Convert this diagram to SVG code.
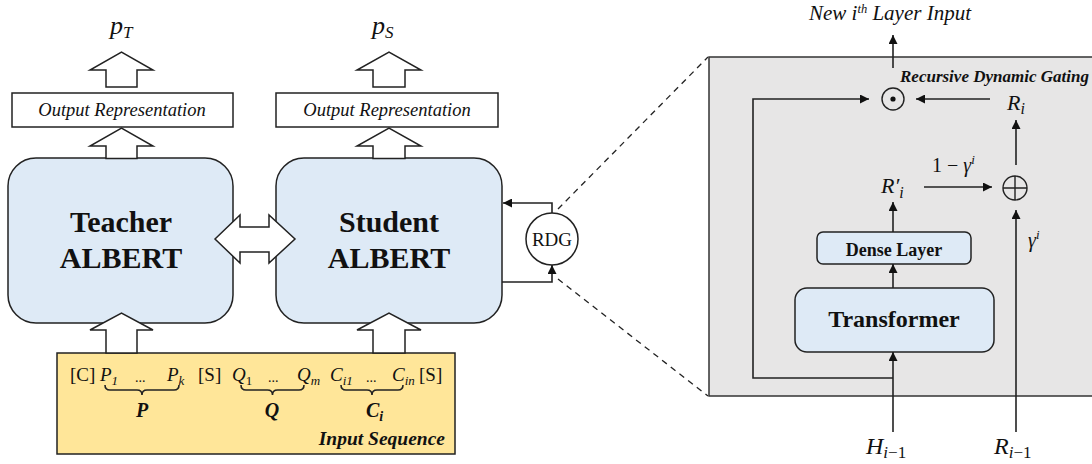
<svg xmlns="http://www.w3.org/2000/svg" width="1092" height="464" viewBox="0 0 1092 464">
<defs>
<style>
.ln{fill:none;stroke:#222;stroke-width:1.6}
.blk{fill:#fff;stroke:#222;stroke-width:1.5}
.ablue{fill:#DEEAF6;stroke:#222;stroke-width:1.5}
.t{font-family:"Liberation Serif","Times New Roman",serif;fill:#111}
.m{font-family:"Liberation Serif","Times New Roman",serif;font-style:italic;fill:#111}
.it{font-style:italic}
.b{font-weight:bold}
.dash{fill:none;stroke:#222;stroke-width:1.3;stroke-dasharray:6,5}
</style>
<marker id="ah" viewBox="0 0 10 10" refX="10" refY="5" markerWidth="9" markerHeight="9" markerUnits="userSpaceOnUse" orient="auto">
<path d="M0,0 L10,5 L0,10 z" fill="#111"/>
</marker>
</defs>
<rect width="1092" height="464" fill="#fff"/>

<g id="rdg-panel">
<rect x="709" y="57" width="400" height="339" fill="#E7E6E6" stroke="#333" stroke-width="1.5"/>
<text class="t it b" x="900" y="82" font-size="17">Recursive Dynamic Gating</text>
</g>

<g id="teacher">
<rect class="ablue" x="8" y="158" width="225" height="165" rx="28"/>
<text class="t b" x="121" y="232" font-size="30" text-anchor="middle">Teacher</text>
<text class="t b" x="121" y="268" font-size="30" text-anchor="middle">ALBERT</text>
</g>
<g id="student">
<rect class="ablue" x="276" y="158" width="226" height="165" rx="28"/>
<text class="t b" x="389" y="232" font-size="30" text-anchor="middle">Student</text>
<text class="t b" x="389" y="268" font-size="30" text-anchor="middle">ALBERT</text>
</g>
<g id="teacher-output">
<rect class="blk" x="12" y="93" width="221" height="34"/>
<text class="t it" x="122" y="116" font-size="18.5" text-anchor="middle">Output Representation</text>
</g>
<g id="student-output">
<rect class="blk" x="276" y="93" width="222" height="34"/>
<text class="t it" x="387" y="116" font-size="18.5" text-anchor="middle">Output Representation</text>
</g>
<g id="pT"><text class="m" x="110" y="34" font-size="26">p<tspan font-size="17" dy="4">T</tspan></text></g>
<g id="pS"><text class="m" x="372" y="34" font-size="26">p<tspan font-size="17" dy="4">S</tspan></text></g>

<g id="input-sequence">
<rect x="57" y="353" width="398" height="101" fill="#FFE699" stroke="#222" stroke-width="1.5"/>
<g class="t" font-size="19">
<text x="70" y="381">[C]</text>
<text class="it" x="100" y="381">P<tspan font-size="13" dy="4">1</tspan></text>
<text x="135" y="382" font-size="14">...</text>
<text class="it" x="167" y="381">P<tspan font-size="13" dy="4">k</tspan></text>
<text x="198" y="381">[S]</text>
<text class="it" x="232" y="381">Q<tspan font-size="13" dy="4" font-style="normal">1</tspan></text>
<text x="268" y="382" font-size="14">...</text>
<text class="it" x="297" y="381">Q<tspan font-size="13" dy="4">m</tspan></text>
<text class="it" x="330" y="381">C<tspan font-size="13" dy="4">i1</tspan></text>
<text x="366" y="382" font-size="14">...</text>
<text class="it" x="392" y="381">C<tspan font-size="13" dy="4">in</tspan></text>
<text x="419" y="381">[S]</text>
<text class="it b" x="142" y="417" font-size="20" text-anchor="middle">P</text>
<text class="it b" x="272" y="417" font-size="20" text-anchor="middle">Q</text>
<text class="it b" x="366" y="417" font-size="20">C<tspan font-size="14" dy="4">i</tspan></text>
<text class="it b" x="445" y="445" font-size="19.5" text-anchor="end">Input  Sequence</text>
</g>
<path class="ln" stroke-width="1.3" d="M105,385 Q105,390 110,390 L137,390 Q142,390 142,395 Q142,390 147,390 L174,390 Q179,390 179,385"/>
<path class="ln" stroke-width="1.3" d="M241,385 Q241,390 246,390 L267.5,390 Q272.5,390 272.5,395 Q272.5,390 277.5,390 L299,390 Q304,390 304,385"/>
<path class="ln" stroke-width="1.3" d="M341,385 Q341,390 346,390 L367,390 Q372,390 372,395 Q372,390 377,390 L398,390 Q403,390 403,385"/>
</g>

<g id="rdg">
<circle cx="552" cy="239" r="26" fill="#fff" stroke="#222" stroke-width="1.5"/>
<text class="t" x="552" y="246" font-size="19" text-anchor="middle">RDG</text>
</g>

<g id="odot">
<circle cx="893" cy="99" r="11" fill="none" stroke="#222" stroke-width="1.4"/>
<circle cx="893" cy="99" r="2.6" fill="#111"/>
</g>
<g id="oplus">
<circle cx="1015" cy="188" r="12" fill="none" stroke="#222" stroke-width="1.4"/>
<path d="M1003,188 H1027 M1015,176 V200" stroke="#222" stroke-width="1.4"/>
</g>
<g id="dense">
<rect class="ablue" x="817" y="232" width="154" height="32" rx="6"/>
<text class="t b" x="894" y="256" font-size="18" text-anchor="middle">Dense Layer</text>
</g>
<g id="transformer">
<rect class="ablue" x="795" y="288" width="199" height="64" rx="12"/>
<text class="t b" x="894" y="327" font-size="24" text-anchor="middle">Transformer</text>
</g>

<g id="labels">
<text class="t it" x="890" y="20" font-size="21" text-anchor="middle">New i<tspan font-size="12.5" dy="-7">th</tspan><tspan dy="7"> Layer Input</tspan></text>
<text class="m" x="1007" y="110" font-size="22">R<tspan font-size="16" dy="4">i</tspan></text>
<text class="m" x="881" y="193" font-size="22">R′<tspan font-size="16" dy="5">i</tspan></text>
<text class="m" x="932" y="172" font-size="20"><tspan font-style="normal">1 − </tspan>γ<tspan font-size="13" dy="-8">i</tspan></text>
<text class="m" x="1028" y="247" font-size="20">γ<tspan font-size="13" dy="-8">i</tspan></text>
<text class="m" x="866" y="454" font-size="24">H<tspan font-size="17" dy="4">i</tspan><tspan font-size="17" font-style="normal">−1</tspan></text>
<text class="m" x="994" y="454" font-size="24">R<tspan font-size="17" dy="4">i</tspan><tspan font-size="17" font-style="normal">−1</tspan></text>
</g>

<g id="connectors">
<polygon class="blk" points="106,87 106,70 90,70 121.5,52 153,70 137,70 137,87"/>
<polygon class="blk" points="106,158.5 106,146 90,146 121.5,128 153,146 137,146 137,158.5"/>
<polygon class="blk" points="106,353 106,330 90,330 121.5,313 153,330 137,330 137,353"/>
<polygon class="blk" points="373,87 373,70 357,70 389,52 421,70 405,70 405,87"/>
<polygon class="blk" points="373,158.5 373,146 357,146 389,128 421,146 405,146 405,158.5"/>
<polygon class="blk" points="373,353 373,330 357,330 389,313 421,330 405,330 405,353"/>
<polygon class="blk" points="215,239 240,215 240,227 269,227 269,215 295,239 269,263 269,252 240,252 240,263"/>
<polyline class="ln" points="552,213 552,203 503,203" marker-end="url(#ah)"/>
<polyline class="ln" points="502,282 552,282 552,265" marker-end="url(#ah)"/>
<line class="dash" x1="558" y1="209" x2="708" y2="57"/>
<line class="dash" x1="558" y1="279" x2="708" y2="396"/>
<line class="ln" x1="893" y1="68" x2="893" y2="35" marker-end="url(#ah)"/>
<line class="ln" x1="990" y1="99" x2="916" y2="99" marker-end="url(#ah)"/>
<polyline class="ln" points="893,378 753,378 753,99 869,99" marker-end="url(#ah)"/>
<line class="ln" x1="893" y1="432" x2="893" y2="352" marker-end="url(#ah)"/>
<line class="ln" x1="893" y1="288" x2="893" y2="264" marker-end="url(#ah)"/>
<line class="ln" x1="893" y1="232" x2="893" y2="202" marker-end="url(#ah)"/>
<line class="ln" x1="924" y1="187" x2="992" y2="187" marker-end="url(#ah)"/>
<line class="ln" x1="1016" y1="165" x2="1016" y2="120" marker-end="url(#ah)"/>
<line class="ln" x1="1016" y1="432" x2="1016" y2="210" marker-end="url(#ah)"/>
</g>
</svg>
